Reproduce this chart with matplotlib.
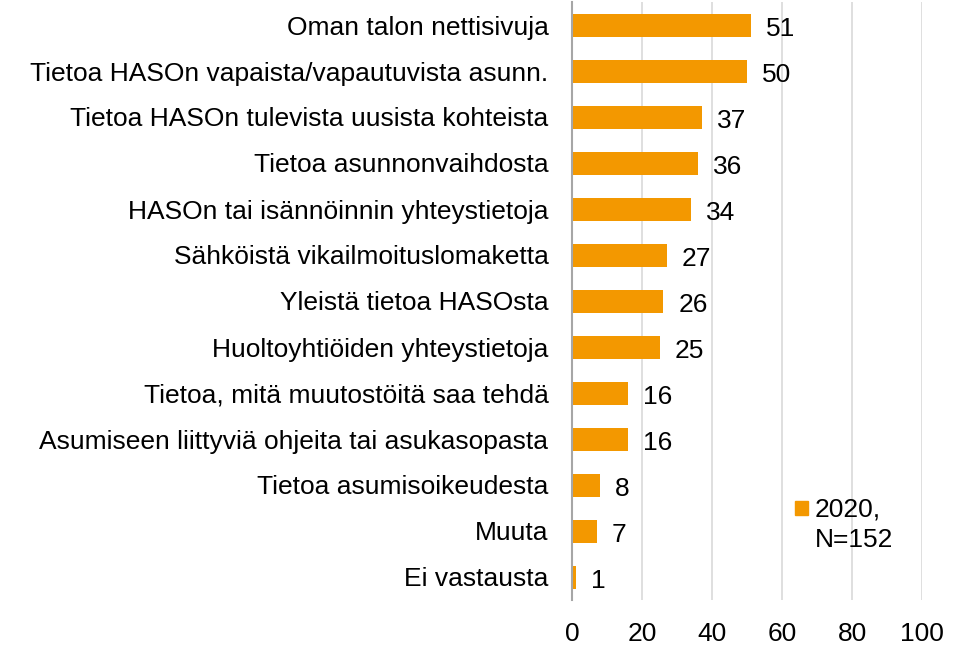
import matplotlib.pyplot as plt
from matplotlib.patches import Rectangle

plt.rcParams['font.family'] = ['Liberation Sans', 'DejaVu Sans']

categories = [
    "Oman talon nettisivuja",
    "Tietoa HASOn vapaista/vapautuvista asunn.",
    "Tietoa HASOn tulevista uusista kohteista",
    "Tietoa asunnonvaihdosta",
    "HASOn tai isännöinnin yhteystietoja",
    "Sähköistä vikailmoituslomaketta",
    "Yleistä tietoa HASOsta",
    "Huoltoyhtiöiden yhteystietoja",
    "Tietoa, mitä muutostöitä saa tehdä",
    "Asumiseen liittyviä ohjeita tai asukasopasta",
    "Tietoa asumisoikeudesta",
    "Muuta",
    "Ei vastausta",
]
values = [51, 50, 37, 36, 34, 27, 26, 25, 16, 16, 8, 7, 1]
series_label = "2020,\nN=152"
xticks = [0, 20, 40, 60, 80, 100]

bar_color = "#F39800"
fs = 19

fig = plt.figure(figsize=(9.72, 6.46), dpi=100)
ax = fig.add_axes([572 / 972, 1 - 600 / 646, 350 / 972, 598 / 646])

ypos = list(range(len(categories)))
ax.barh(ypos, values, height=0.5, color=bar_color, zorder=3)
for y, v in zip(ypos, values):
    ax.annotate(str(v), (v, y), xytext=(11, -7.6), textcoords="offset points",
                va="baseline", ha="left", fontsize=fs)

ax.set_yticks(ypos)
ax.set_yticklabels(categories, fontsize=fs)
ax.set_ylim(len(categories) - 0.5, -0.5)
ax.set_xlim(0, 100)
ax.set_xticks(xticks)
ax.set_xticklabels([str(t) for t in xticks], fontsize=fs)
ax.tick_params(axis="both", length=0)
ax.tick_params(axis="x", pad=16)
ax.tick_params(axis="y", pad=17)

ax.grid(axis="x", color="#D9D9D9", linewidth=1.2, zorder=0)
for s in ["top", "right", "bottom"]:
    ax.spines[s].set_visible(False)
ax.spines["left"].set_color("#A6A6A6")
ax.spines["left"].set_linewidth(1.5)
ax.spines["left"].set_zorder(4)

# legend: square marker beside a two-line label
ax.add_patch(Rectangle((0.637, 0.142), 0.037, 0.0234, transform=ax.transAxes,
                       color=bar_color, clip_on=False, zorder=5))
for i, line in enumerate(series_label.split("\n")):
    ax.text(0.694, (600 - 516 - 31 * i) / 598, line, transform=ax.transAxes,
            va="baseline", ha="left", fontsize=fs)

fig.savefig("out.png", dpi=100)
